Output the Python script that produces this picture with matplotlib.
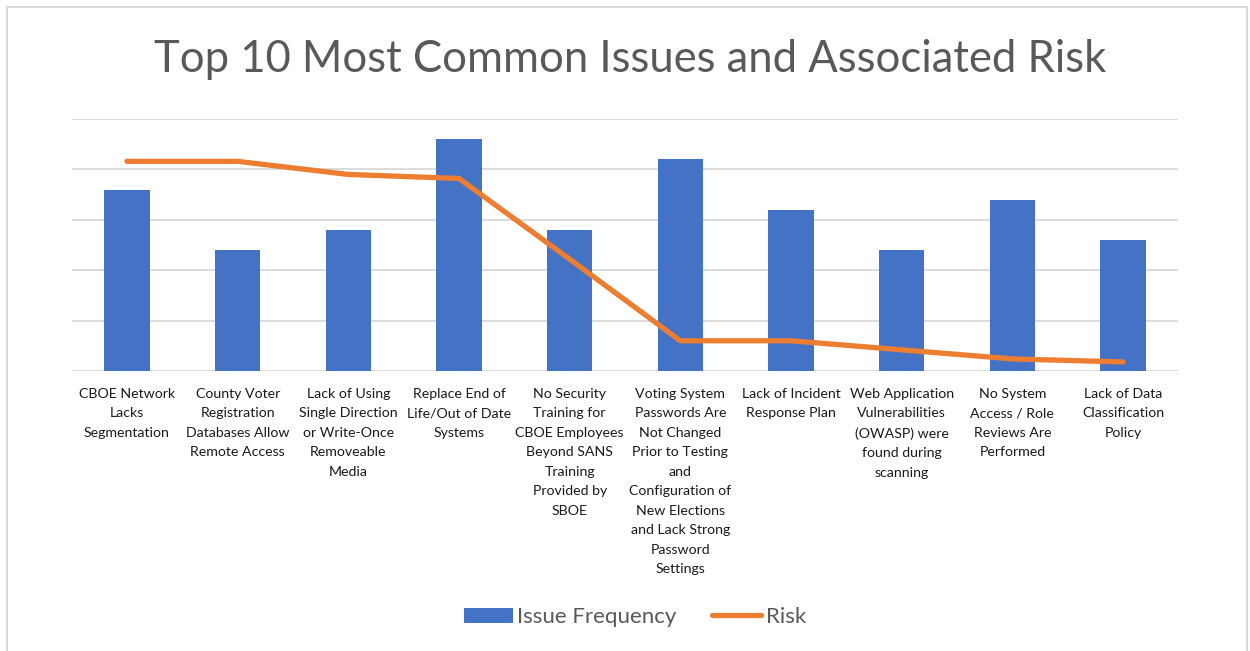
import matplotlib.pyplot as plt
from matplotlib.patches import Rectangle

categories = [
    "CBOE Network\nLacks\nSegmentation",
    "County Voter\nRegistration\nDatabases Allow\nRemote Access",
    "Lack of Using\nSingle Direction\nor Write-Once\nRemoveable\nMedia",
    "Replace End of\nLife/Out of Date\nSystems",
    "No Security\nTraining for\nCBOE Employees\nBeyond SANS\nTraining\nProvided by\nSBOE",
    "Voting System\nPasswords Are\nNot Changed\nPrior to Testing\nand\nConfiguration of\nNew Elections\nand Lack Strong\nPassword\nSettings",
    "Lack of Incident\nResponse Plan",
    "Web Application\nVulnerabilities\n(OWASP) were\nfound during\nscanning",
    "No System\nAccess / Role\nReviews Are\nPerformed",
    "Lack of Data\nClassification\nPolicy",
]
issue_frequency = [18, 12, 14, 23, 14, 21, 16, 12, 17, 13]
risk = [20.8, 20.8, 19.5, 19.1, 11.1, 3.0, 3.0, 2.1, 1.2, 0.9]


def main():
    plt.rcParams['font.family'] = ['Lato', 'DejaVu Sans']
    fig = plt.figure(figsize=(12.5, 6.51), dpi=100)

    # light border around the chart area
    fig.patches.append(Rectangle((7 / 1250, -0.1), 1240 / 1250, 1 - 7 / 651 + 0.1,
                                 transform=fig.transFigure, fill=False,
                                 edgecolor='#d9d9d9', linewidth=1.5))

    ax = fig.add_axes([0.0573, 0.4301, 0.8854, 0.3871])
    x = list(range(len(categories)))
    bars = ax.bar(x, issue_frequency, width=0.41, color='#4472c4',
                  label='Issue Frequency', zorder=2)
    line, = ax.plot(x, risk, color='#ed7d31', linewidth=3.8, solid_capstyle='round',
                    label='Risk', zorder=3)

    ax.set_xlim(-0.5, len(categories) - 0.5)
    ax.set_ylim(0, 25)
    ax.set_yticks([0, 5, 10, 15, 20, 25])
    ax.yaxis.grid(True, color='#d9d9d9', linewidth=1.3, zorder=0)
    ax.tick_params(axis='y', left=False, labelleft=False)
    ax.tick_params(axis='x', bottom=False, pad=8.5)
    ax.set_xticks(x)
    ax.set_xticklabels(categories, fontsize=10.2, color='#1a1a1a', linespacing=1.75, va='top')
    for s in ax.spines.values():
        s.set_visible(False)

    fig.text(0.504, 1 - 60 / 651, 'Top 10 Most Common Issues and Associated Risk',
             ha='center', va='center', fontsize=31.4, color='#595959')

    fig.legend([bars, line], ['Issue Frequency', 'Risk'], loc='center',
               bbox_to_anchor=(0.508, 1 - 617 / 651), ncol=2,
               frameon=False, fontsize=16, labelcolor='#595959',
               handlelength=2.2, handleheight=0.65, columnspacing=1.6, handletextpad=0.2)

    fig.savefig("out.png", dpi=100)


if __name__ == "__main__":
    main()
